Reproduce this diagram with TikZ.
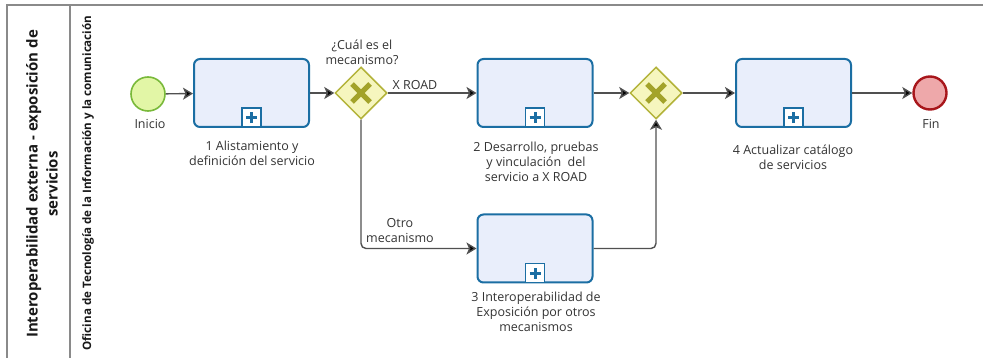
\documentclass[tikz,border=0pt]{standalone}
\usepackage{fontspec}
\setmainfont{Open Sans}
\usetikzlibrary{shapes.geometric,arrows.meta}

\definecolor{taskline}{HTML}{1B6EA3}
\definecolor{taskfill}{HTML}{E9EEFB}
\definecolor{gateline}{HTML}{B3B33A}
\definecolor{gatefill}{HTML}{F6F6BE}
\definecolor{gatecross}{HTML}{A3A32A}
\definecolor{startline}{HTML}{79B93A}
\definecolor{startfill}{HTML}{E2F6A6}
\definecolor{endline}{HTML}{A8161B}
\definecolor{endfill}{HTML}{EEA8AA}
\definecolor{flowgray}{HTML}{505050}
\definecolor{textgray}{HTML}{333333}
\definecolor{framegray}{HTML}{8A8A8A}

\tikzset{
  task/.style={draw=taskline, fill=taskfill, line width=2pt, rounded corners=6pt,
    minimum width=115pt, minimum height=68pt},
  subbox/.style={draw=taskline, fill=white, line width=1.6pt, minimum size=19pt,
    inner sep=0pt, anchor=south},
  gate/.style={diamond, draw=gateline, fill=gatefill, line width=1.5pt,
    minimum width=52pt, minimum height=52pt, inner sep=0pt},
  startev/.style={circle, draw=startline, fill=startfill, line width=1.6pt, minimum size=34pt},
  endev/.style={circle, draw=endline, fill=endfill, line width=2.4pt, minimum size=33pt},
  flow/.style={draw=flowgray, line width=1.4pt, rounded corners=5pt,
    -{Stealth[length=10pt,width=12pt,inset=2.5pt,fill=black]}},
  lbl/.style={text=textgray, font=\fontsize{12.5}{15}\selectfont, align=center, inner sep=0pt},
}

\begin{document}
\begin{tikzpicture}[x=1pt,y=-1pt]

  \useasboundingbox (0,0) rectangle (983,358);

  % pool and lane frame
  \draw[framegray, line width=1.2pt] (983,5) -- (7,5) -- (7,358);
  \draw[framegray, line width=1.2pt] (70,5) -- (70,358);
  \node[rotate=90, align=center, text=black!90, inner sep=0pt,
    font=\bfseries\fontsize{15}{20}\selectfont] (pool) at (42,184)
    {Interoperabilidad externa - exposición de\\servicios};
  \node[rotate=90, text=black!90, inner sep=0pt,
    font=\bfseries\fontsize{11.6}{13}\selectfont] (lane) at (88,183)
    {Oficina de Tecnología de la Información y la comunicación};

  % events
  \node[startev] (inicio) at (148,94) {};
  \node[lbl] (inicio-l) at (150,124) {Inicio};
  \node[endev] (fin) at (930,93) {};
  \node[lbl] (fin-l) at (931,124) {Fin};

  % tasks
  \node[task] (t1) at (251.5,93) {};
  \node[task] (t2) at (535,93) {};
  \node[task] (t3) at (535,248.5) {};
  \node[task] (t4) at (793.5,93) {};
  \foreach \t in {t1,t2,t3,t4} {
    \node[subbox] (\t-m) at (\t.south) {};
    \draw[taskline, line width=3pt] ([xshift=-5.5pt]\t-m.center) -- ([xshift=5.5pt]\t-m.center);
    \draw[taskline, line width=3pt] ([yshift=-5.5pt]\t-m.center) -- ([yshift=5.5pt]\t-m.center);
  }
  \node[lbl] (t1-l) at (252,153) {1 Alistamiento y\\definición del servicio};
  \node[lbl] (t2-l) at (536,162) {2 Desarrollo, pruebas\\y vinculación~ del\\servicio a X ROAD};
  \node[lbl] (t3-l) at (536,312) {3 Interoperabilidad de\\Exposición por otros\\mecanismos};
  \node[lbl] (t4-l) at (793,157) {4 Actualizar catálogo\\de servicios};

  % gateways
  \node[gate] (g1) at (361,93) {};
  \node[gate] (g2) at (656,93) {};
  \foreach \g in {g1,g2} {
    \draw[gatecross, line width=5pt] ([shift={(-9pt,-9pt)}]\g.center) -- ([shift={(9pt,9pt)}]\g.center);
    \draw[gatecross, line width=5pt] ([shift={(-9pt,9pt)}]\g.center) -- ([shift={(9pt,-9pt)}]\g.center);
  }
  \node[lbl] (g1-l) at (362,52) {¿Cuál es el\\mecanismo?};

  % flows
  \draw[flow] (inicio) -- (t1);
  \draw[flow] (t1) -- (g1);
  \draw[flow] (g1) -- (t2);
  \draw[flow] (t2) -- (g2);
  \draw[flow] (g2) -- (t4);
  \draw[flow] (t4) -- (fin);
  \draw[flow] (g1.south) |- (t3.west);
  \draw[flow] (t3.east) -| (g2.south);
  \node[lbl] (xroad-l) at (415,85) {X ROAD};
  \node[lbl] (otro-l) at (400,231) {Otro\\mecanismo};

\end{tikzpicture}
\end{document}
